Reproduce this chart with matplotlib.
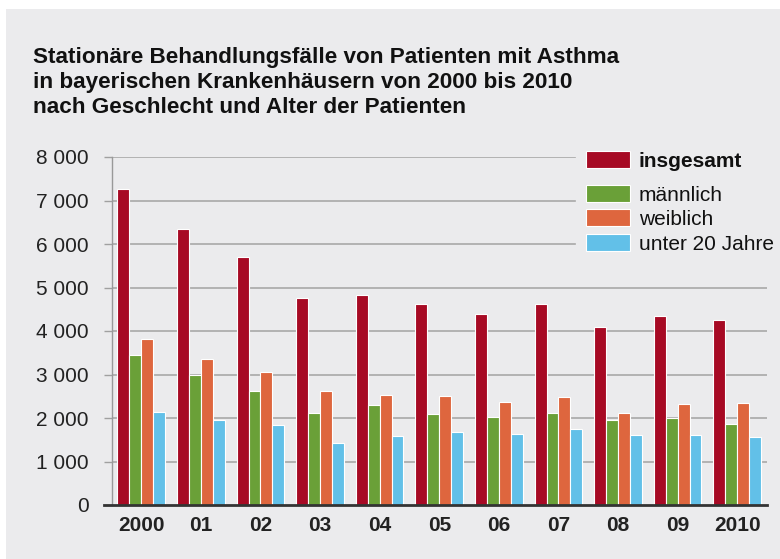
import matplotlib
matplotlib.use("Agg")
import matplotlib.pyplot as plt
from matplotlib.patches import Rectangle
import numpy as np

plt.rcParams['font.family'] = ['Liberation Sans', 'DejaVu Sans']

years = ["2000", "01", "02", "03", "04", "05", "06", "07", "08", "09", "2010"]
insgesamt = [7260, 6335, 5700, 4760, 4820, 4630, 4400, 4620, 4085, 4345, 4245]
maennlich = [3445, 2985, 2630, 2120, 2290, 2095, 2020, 2125, 1960, 2010, 1865]
weiblich = [3810, 3345, 3060, 2630, 2525, 2515, 2370, 2480, 2110, 2320, 2355]
unter20 = [2130, 1965, 1850, 1415, 1590, 1675, 1635, 1745, 1605, 1615, 1560]
series_names = ["insgesamt", "männlich", "weiblich", "unter 20 Jahre"]
yticks = [0, 1000, 2000, 3000, 4000, 5000, 6000, 7000, 8000]
ytick_labels = ["0", "1 000", "2 000", "3 000", "4 000", "5 000", "6 000", "7 000", "8 000"]
title_lines = ["Stationäre Behandlungsfälle von Patienten mit Asthma",
               "in bayerischen Krankenhäusern von 2000 bis 2010",
               "nach Geschlecht und Alter der Patienten"]

colors = ["#A70A24", "#6AA038", "#DE663E", "#62C0E8"]
bg = "#EBEBED"
W, H = 780, 559

fig = plt.figure(figsize=(W / 100, H / 100), dpi=100)
fig.patch.set_facecolor("white")
fig.patches.append(Rectangle((6 / W, 0), 1 - 6 / W, 1 - 9 / H, transform=fig.transFigure,
                             facecolor=bg, edgecolor="none", zorder=-10))

ax = fig.add_axes([111.5 / W, 1 - 505 / H, (767 - 111.5) / W, (505 - 157) / H])
ax.set_facecolor(bg)
ax.patch.set_alpha(0)

x = np.arange(len(years))
width = 0.2
data = [insgesamt, maennlich, weiblich, unter20]
for i, (vals, c) in enumerate(zip(data, colors)):
    ax.bar(x + (i - 1.5) * width, vals, width, color=c, edgecolor="white",
           linewidth=0.8, zorder=3, label=series_names[i])

ax.set_xlim(-0.5, 10.5)
ax.set_ylim(0, 8000)

# gridlines (upper ones stop before the legend)
for v in yticks[1:]:
    xmax = 0.707 if v >= 6000 else 1.0
    ax.axhline(v, xmin=0, xmax=xmax, color="#A8A8A8", linewidth=1.2, zorder=1)

ax.set_yticks(yticks)
ax.set_yticklabels(ytick_labels)
ax.set_xticks(x)
ax.set_xticklabels(years, fontweight="bold")
ax.tick_params(axis="y", length=5.5, width=1, color="#A0A0A0", pad=11, labelsize=15,
               labelcolor="#222222")
ax.tick_params(axis="x", length=0, pad=8, labelsize=15, labelcolor="#222222")

for s in ["top", "right"]:
    ax.spines[s].set_visible(False)
ax.spines["left"].set_color("#999999")
ax.spines["left"].set_linewidth(1)
ax.spines["bottom"].set_color("#333333")
ax.spines["bottom"].set_linewidth(2)
ax.spines["bottom"].set_bounds(-0.5 - 7.5 / 59.5, 10.5)
ax.spines["bottom"].set_zorder(5)

# title, one line per baseline
for k, line in enumerate(title_lines):
    fig.text(33 / W, 1 - (63.3 + 25 * k) / H, line, ha="left", va="baseline",
             fontsize=16.2, fontweight="bold", color="#111111")

# legend
leg = [(151, 0), (185, 1), (209, 2), (234, 3)]
for ytop, i in leg:
    fig.patches.append(Rectangle((586 / W, 1 - (ytop + 17) / H), 44 / W, 17 / H,
                                 transform=fig.transFigure, facecolor=colors[i],
                                 edgecolor="white", linewidth=0.8, zorder=5))
    fig.text(639 / W, 1 - (ytop + 8.5) / H, series_names[i], ha="left", va="center_baseline",
             fontsize=15, fontweight="bold" if i == 0 else "normal", color="#111111")

fig.savefig("out.png", dpi=100, facecolor=fig.get_facecolor())
